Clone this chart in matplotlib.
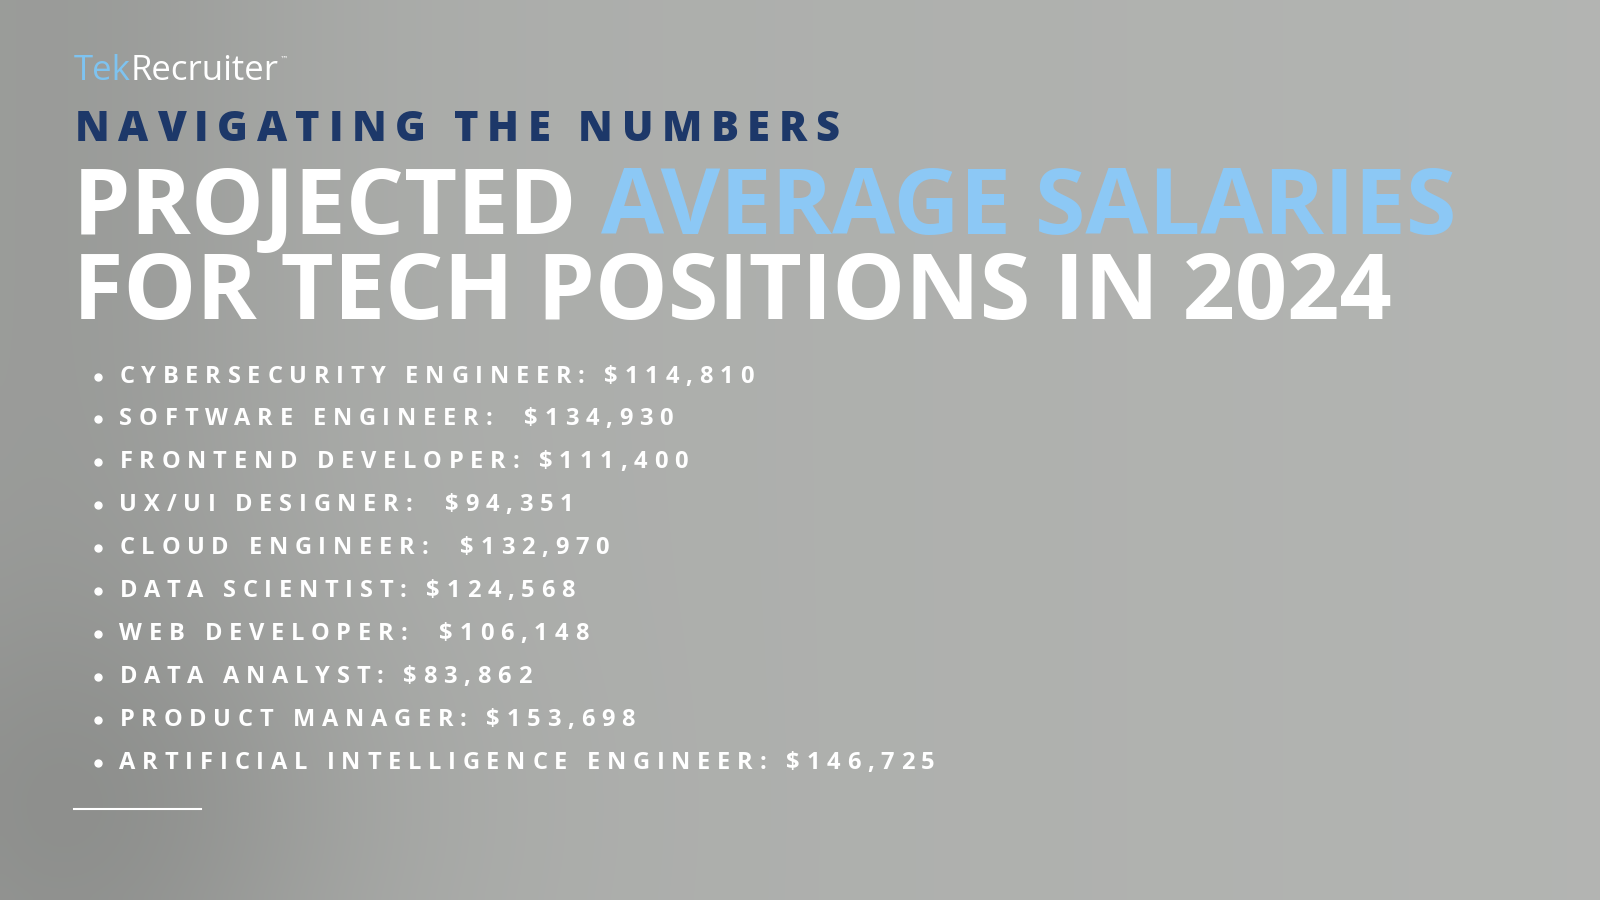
import numpy as np
import matplotlib
matplotlib.use("Agg")
import matplotlib.pyplot as plt
from matplotlib.font_manager import FontProperties

roles = ["CYBERSECURITY ENGINEER", "SOFTWARE ENGINEER", "FRONTEND DEVELOPER", "UX/UI DESIGNER",
         "CLOUD ENGINEER", "DATA SCIENTIST", "WEB DEVELOPER", "DATA ANALYST",
         "PRODUCT MANAGER", "ARTIFICIAL INTELLIGENCE ENGINEER"]
salaries = [114810, 134930, 111400, 94351, 132970, 124568, 106148, 83862, 153698, 146725]
seps = [": ", ":  ", ": ", ":  ", ":  ", ": ", ":  ", ": ", ": ", ": "]

W, H = 1568.0, 882.0
fig = plt.figure(figsize=(16, 9), dpi=100)
ax = fig.add_axes([0, 0, 1, 1])
ax.set_xlim(0, W); ax.set_ylim(H, 0); ax.axis("off")

yy, xx = np.mgrid[0:90, 0:160]
bg = 0.67 + 0.04 * (xx / 160.0) - 0.06 * np.exp(-((xx - 5) / 25.0) ** 2)
bg -= 0.05 * np.exp(-((yy - 80) / 20.0) ** 2) * np.exp(-((xx - 10) / 30.0) ** 2)
rgb = np.dstack([bg * 0.99, bg, bg * 0.985])
ax.imshow(rgb, extent=(0, W, H, 0), aspect="auto", interpolation="bicubic", zorder=0)
ax.set_xlim(0, W); ax.set_ylim(H, 0)

fig.canvas.draw()
renderer = fig.canvas.get_renderer()
scale = fig.bbox.width / W

def tracked(x, y, s, size, color, spacing, weight="bold", family="Open Sans"):
    fp = FontProperties(family=family, weight=weight, size=size)
    for ch in s:
        ax.text(x, y, ch, fontproperties=fp, color=color, va="center", ha="left", zorder=3)
        w, _, _ = renderer.get_text_width_height_descent(ch, fp, ismath=False)
        x += w / scale + spacing
    return x

# logo
fpl = FontProperties(family="Open Sans", size=25)
ax.text(72, 70, "Tek", fontproperties=fpl, color="#7ec3f0", va="center", zorder=3)
w, _, _ = renderer.get_text_width_height_descent("Tek", fpl, ismath=False)
ax.text(72 + w / scale, 70, "Recruiter", fontproperties=fpl, color="white", va="center", zorder=3)
w2, _, _ = renderer.get_text_width_height_descent("Recruiter", fpl, ismath=False)
ax.text(72 + (w + w2) / scale + 1, 58, "™", fontsize=6, color="white", va="center", zorder=3)

# subtitle
tracked(73, 127, "NAVIGATING THE NUMBERS", 30, "#1d3869", 8.4, weight="heavy")

# title
fpt = FontProperties(family="Open Sans", weight="bold", size=66)
ax.text(72, 206, "PROJECTED ", fontproperties=fpt, color="white", va="center", zorder=3)
wt, _, _ = renderer.get_text_width_height_descent("PROJECTED ", fpt, ismath=False)
ax.text(72 + wt / scale, 206, "AVERAGE SALARIES", fontproperties=fpt, color="#8cc8f5", va="center", zorder=3)
ax.text(72, 289, "FOR TECH POSITIONS IN 2024", fontproperties=fpt, color="white", va="center", zorder=3)

# bullets
for i, (r, s, sep) in enumerate(zip(roles, salaries, seps)):
    y = 369 + 42.1 * i
    ax.plot(96, y, "o", color="white", markersize=5, zorder=3)
    tracked(117, y, f"{r}{sep}${s:,}", 17, "white", 6.6)

ax.plot([73, 197], [793, 793], color="white", lw=1.5, zorder=3)

fig.savefig("out.png", dpi=100)
